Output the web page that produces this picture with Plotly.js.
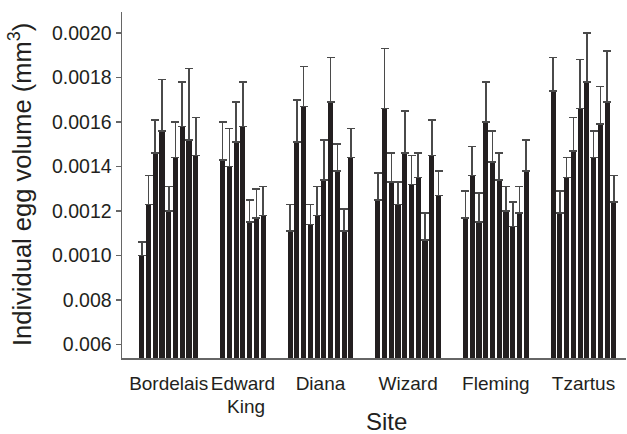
<!DOCTYPE html>
<html>
<head>
<meta charset="utf-8">
<script src="https://cdn.plot.ly/plotly-3.0.1.min.js"></script>
<style>html,body{margin:0;padding:0;background:#fff;}#chart{width:627px;height:434px;}</style>
</head>
<body>
<div id="chart"></div>
<script>
// Sites (groups) and their tick labels (second line of "Edward King" drawn below)
const sites = ["Bordelais", "Edward King", "Diana", "Wizard", "Fleming", "Tzartus"];
const siteLabels = ["Bordelais", "Edward", "Diana", "Wizard", "Fleming", "Tzartus"];
const siteLabelsLine2 = ["", "King", "", "", "", ""];

// Mean individual egg volume (mm^3) per bar, by site
const bordelaisMean  = [0.00100, 0.00123, 0.00146, 0.00156, 0.00120, 0.00144, 0.00158, 0.00152, 0.00145];
const edwardKingMean = [0.00143, 0.00140, 0.00151, 0.00158, 0.00115, 0.00117, 0.00118];
const dianaMean      = [0.00111, 0.00151, 0.00167, 0.00114, 0.00118, 0.00134, 0.00169, 0.00138, 0.00111, 0.00144];
const wizardMean     = [0.00125, 0.00166, 0.00133, 0.00123, 0.00146, 0.00132, 0.00135, 0.00107, 0.00145, 0.00127];
const flemingMean    = [0.00117, 0.00136, 0.00115, 0.00160, 0.00142, 0.00134, 0.00120, 0.00113, 0.00119, 0.00138];
const tzartusMean    = [0.00174, 0.00119, 0.00135, 0.00147, 0.00166, 0.00178, 0.00144, 0.00159, 0.00169, 0.00124];

// Top of each error bar (mm^3)
const bordelaisUpper  = [0.00106, 0.00136, 0.00161, 0.00179, 0.00131, 0.00160, 0.00178, 0.00184, 0.00162];
const edwardKingUpper = [0.00160, 0.00157, 0.00169, 0.00178, 0.00125, 0.00130, 0.00131];
const dianaUpper      = [0.00123, 0.00170, 0.00185, 0.00123, 0.00131, 0.00152, 0.00189, 0.00150, 0.00121, 0.00157];
const wizardUpper     = [0.00137, 0.00193, 0.00146, 0.00133, 0.00165, 0.00145, 0.00146, 0.00119, 0.00161, 0.00138];
const flemingUpper    = [0.00129, 0.00149, 0.00128, 0.00178, 0.00156, 0.00146, 0.00131, 0.00124, 0.00131, 0.00152];
const tzartusUpper    = [0.00189, 0.00129, 0.00144, 0.00162, 0.00188, 0.00200, 0.00156, 0.00176, 0.00192, 0.00136];

// Y tick values and the labels as printed in the original figure
const yTickVals = [0.0006, 0.0008, 0.0010, 0.0012, 0.0014, 0.0016, 0.0018, 0.0020];
const yTickText = ["0.006", "0.008", "0.0010", "0.0012", "0.0014", "0.0016", "0.0018", "0.0020"];

const means = [bordelaisMean, edwardKingMean, dianaMean, wizardMean, flemingMean, tzartusMean];
const uppers = [bordelaisUpper, edwardKingUpper, dianaUpper, wizardUpper, flemingUpper, tzartusUpper];
const GAP = 3; // empty slots between site groups

const xs = [], ys = [], errs = [], zeros = [], tickVals = [];
let slot = 0;
means.forEach((arr, g) => {
  const start = slot;
  arr.forEach((v, i) => {
    xs.push(slot);
    ys.push(v);
    errs.push(uppers[g][i] - v);
    zeros.push(0);
    slot++;
  });
  tickVals.push((start + slot - 1) / 2);
  slot += GAP;
});
const lastSlot = slot - GAP - 1;

const font = "Liberation Sans, Arial, Helvetica, sans-serif";
const txt = "#231f20";

const trace = {
  type: "bar",
  x: xs,
  y: ys,
  width: 0.76,
  marker: { color: "#231f20", line: { width: 0 } },
  error_y: {
    type: "data", symmetric: false, array: errs, arrayminus: zeros,
    color: "#4a4a4a", thickness: 1.6, width: 4
  },
  hoverinfo: "x+y"
};

const annotations = [
  {
    text: "Site", xref: "paper", yref: "paper",
    x: (386 - 122) / 504, y: -(421 - 358) / 346, xanchor: "center", yanchor: "middle",
    showarrow: false, font: { family: font, size: 24, color: txt }
  },
  {
    text: "Individual egg volume (mm<sup>3</sup>)", xref: "paper", yref: "paper",
    x: (20 - 122) / 504, y: 0.5, xanchor: "center", yanchor: "middle", textangle: -90,
    showarrow: false, font: { family: font, size: 25.5, color: txt }
  }
];
siteLabelsLine2.forEach((t, i) => {
  if (t) annotations.push({
    text: t, xref: "x", yref: "paper", x: tickVals[i] + 0.4, y: -(406 - 358) / 346,
    xanchor: "center", yanchor: "middle", showarrow: false,
    font: { family: font, size: 19, color: txt }
  });
});

const layout = {
  width: 627, height: 434,
  margin: { l: 122, r: 1, t: 12, b: 76 },
  paper_bgcolor: "#fff", plot_bgcolor: "#fff",
  showlegend: false,
  bargap: 0,
  font: { family: font, color: txt, size: 19.5 },
  xaxis: {
    range: [-2.93, lastSlot + 1.8],
    tickmode: "array", tickvals: tickVals, ticktext: siteLabels, tickangle: 0,
    ticks: "", ticklabelstandoff: 8, showgrid: false, zeroline: false,
    showline: true, linecolor: "#666", linewidth: 1.5,
    tickfont: { family: font, size: 19, color: txt }
  },
  yaxis: {
    range: [0.00054, 0.002094],
    tickmode: "array", tickvals: yTickVals, ticktext: yTickText,
    ticks: "outside", ticklen: 5, tickwidth: 1.3, tickcolor: "#666",
    showgrid: false, zeroline: false,
    showline: true, linecolor: "#666", linewidth: 1.5,
    tickfont: { family: font, size: 19.5, color: txt }
  },
  annotations: annotations
};

Plotly.newPlot("chart", [trace], layout, { displayModeBar: false, staticPlot: true });
</script>
</body>
</html>
